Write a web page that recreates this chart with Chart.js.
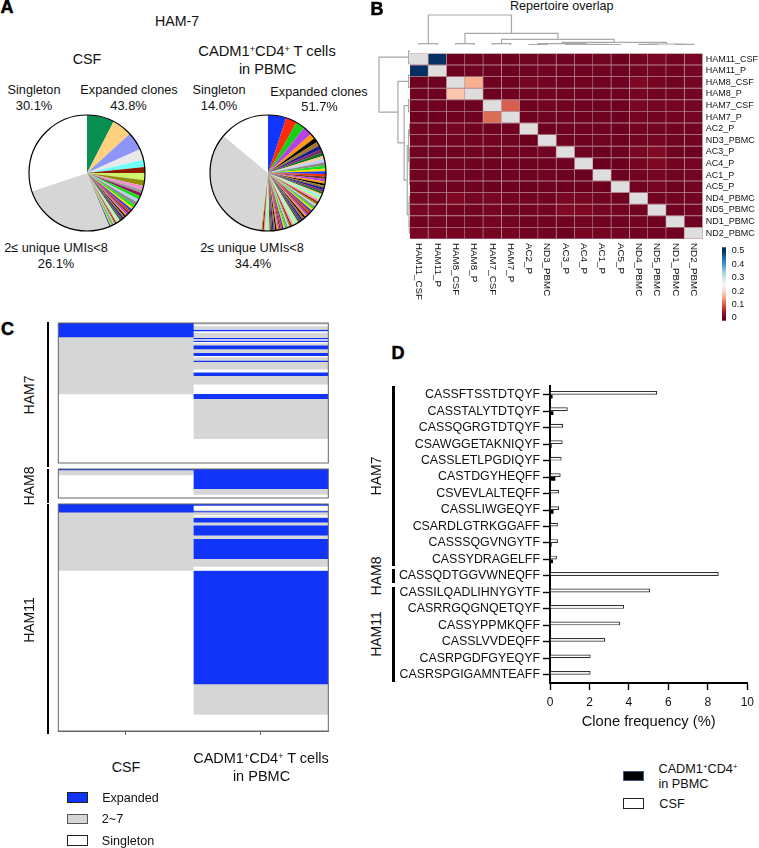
<!DOCTYPE html>
<html>
<head>
<meta charset="utf-8">
<title>HAM clones</title>
<script src="https://cdn.jsdelivr.net/npm/chart.js@4"></script>
<style>
  html, body { margin: 0; background: #fff; }
  #page { position: relative; width: 759px; height: 848px; overflow: hidden; font-family: "Liberation Sans", Arial, sans-serif; color: #111; }
  #page canvas { position: absolute; }
  .txt { position: absolute; white-space: nowrap; transform: translate(-50%, -50%); line-height: 1; }
  .txt sup { font-size: 62%; line-height: 0; vertical-align: 0.42em; }
  .bar { position: absolute; background: #000; }
  .swatch { position: absolute; box-sizing: border-box; border: 1px solid #222; }
</style>
</head>
<body>
<div id="page"></div>
<script>
// panel A
const csfSlices = [7.6, 5.6, 5.1, 3.0, 2.0, 1.7, 2.0, 1.6, 1.1, 0.9, 0.9, 1.0, 0.9, 1.0, 0.8, 0.6, 0.6, 0.5, 0.5, 0.5,
  0.4, 0.4, 0.4, 0.4, 0.4, 0.4, 0.3, 0.3, 0.3, 0.3, 0.3, 0.3, 0.3, 0.3, 0.3, 0.3, 0.3, 0.1, 26.1, 30.1];
const pbmcSlices = [5.1, 3.1, 2.6, 2.5, 1.6, 1.2, 1.2, 1.1, 1.0, 0.9, 0.9, 1.0, 0.9, 0.8, 0.8, 0.7, 0.7, 0.7, 0.7,
  0.6, 0.6, 0.6, 0.6, 0.6, 0.6, 0.6, 0.6, 0.6, 0.6,
  0.5, 0.5, 0.5, 0.5, 0.5, 0.5, 0.5, 0.5, 0.5, 0.5, 0.5, 0.5, 0.5, 0.5, 0.5, 0.5, 0.5, 0.5, 0.5, 0.5,
  0.4, 0.4, 0.4, 0.4, 0.4, 0.4, 0.4, 0.4, 0.4, 0.4, 0.4, 0.4, 0.4, 0.4, 0.4, 0.4, 0.4, 0.4, 0.4, 0.4, 0.4, 0.3, 34.4, 14.0];
const csfLead = ['#0a8f52', '#fdd17e', '#8d95fb', '#e8e8e8', '#6ffffb', '#8e1a00', '#cdf56e', '#8f8f00', '#f68fd6', '#9a9a9a', '#8b1a5e', '#16e016', '#c3cbf8'];
const pbmcLead = ['#1036ff', '#ff2a0a', '#16d016', '#b840e8', '#ff9a10', '#000000', '#a8782a', '#1a1a8c', '#7a2a6a', '#0f6e1e', '#f5cf96', '#c3cbf8'];
const slicePalette = ['#8a8a8a', '#16e016', '#ffd400', '#1036ff', '#ff2a0a', '#6b3a1e', '#b840e8', '#ff9a10', '#000000', '#a8782a',
  '#1a1a8c', '#7a2a6a', '#0f6e1e', '#f5cf96', '#6ffffb', '#cdf56e', '#f68fd6', '#8e1a00', '#8f8f00', '#c8d0f8'];
const grayBand = '#d6d6d6';

// panel B
const repertoires = ['HAM11_CSF', 'HAM11_P', 'HAM8_CSF', 'HAM8_P', 'HAM7_CSF', 'HAM7_P', 'AC2_P', 'ND3_PBMC', 'AC3_P', 'AC4_P', 'AC1_P', 'AC5_P', 'ND4_PBMC', 'ND5_PBMC', 'ND1_PBMC', 'ND2_PBMC'];
const overlap = [
  [null, .50, .004, .005, .005, .004, .006, .006, .005, .005, .006, .004, .008, .011, .006, .012],
  [.50, null, .004, .005, .005, .004, .005, .007, .005, .005, .006, .005, .008, .010, .007, .011],
  [.004, .004, null, .160, .005, .005, .010, .008, .005, .006, .006, .005, .015, .009, .006, .010],
  [.005, .005, .180, null, .004, .005, .006, .008, .006, .005, .005, .005, .010, .008, .006, .010],
  [.005, .005, .005, .004, null, .100, .005, .007, .006, .005, .005, .004, .012, .010, .009, .010],
  [.004, .004, .005, .005, .110, null, .005, .006, .005, .005, .005, .004, .009, .008, .007, .009],
  [.006, .005, .010, .006, .005, .005, null, .004, .005, .005, .005, .004, .008, .008, .006, .008],
  [.006, .007, .008, .008, .007, .006, .004, null, .006, .005, .006, .005, .008, .009, .006, .008],
  [.005, .005, .005, .006, .006, .005, .005, .006, null, .005, .004, .004, .012, .018, .006, .004],
  [.005, .005, .006, .005, .005, .005, .005, .005, .005, null, .002, .004, .010, .015, .007, .010],
  [.006, .006, .006, .005, .005, .005, .005, .006, .004, .002, null, .004, .008, .010, .006, .009],
  [.004, .005, .005, .005, .004, .004, .004, .005, .004, .004, .004, null, .006, .009, .005, .008],
  [.008, .008, .015, .010, .012, .009, .008, .008, .012, .010, .008, .006, null, .008, .008, .008],
  [.011, .010, .009, .008, .010, .008, .008, .009, .018, .015, .010, .009, .008, null, .005, .008],
  [.006, .007, .006, .006, .009, .007, .006, .006, .006, .007, .006, .005, .008, .005, null, .005],
  [.012, .011, .010, .010, .010, .009, .008, .008, .004, .010, .009, .008, .008, .008, .005, null]
];
const rampStops = [0, .05, .1, .15, .2, .25, .3, .35, .4, .45, .5];
const rampColors = ['#67001f', '#b2182b', '#d6604d', '#f4a582', '#fddbc7', '#f7f7f7', '#d1e5f0', '#92c5de', '#4393c3', '#2166ac', '#053061'];
const rampTicks = [0, .1, .2, .3, .4, .5];
// dendrogram merges: position a, height a, position b, height b, merge height
const treeMerges = [
  [1, 4, 5.54, 35, 90], [3, 4, 8.08, 17, 35], [5, 4, 11.15, 8, 17], [8.3, 4, 14, 3, 8],
  [7, 1, 9.6, 2, 4], [0.5, 0, 1.5, 0, 4], [2.5, 0, 3.5, 0, 4], [4.5, 0, 5.5, 0, 4], [6.5, 0, 7.5, 0, 1],
  [9.5, 0, 10.5, 0, 0.8], [10, 0.8, 11.5, 0, 1.2], [8.5, 0, 10.75, 1.2, 2],
  [12.5, 0, 13.5, 0, 2], [14.5, 0, 15.5, 0, 2], [13, 2, 15, 2, 3]
];

// panel C, % of each panel from top to bottom. E expanded, G 2~7, S singleton
const ham7Csf = [10.0, 40.7, 49.3];
const ham7CsfKinds = ['E', 'G', 'S'];
const ham7Pbmc = [1.0, 1.0, 2.0, 0.6, 1.0, 1.2, 3.6, 1.0, 1.0, 1.0, 0.8, 1.6, 2.8, 2.6, 2.1, 1.0, 2.4, 0.9, 5.3, 2.3, 2.5, 6.0, 6.7, 3.7, 28.5, 17.1];
const ham7PbmcKinds = ['G', 'S', 'G', 'S', 'E', 'S', 'G', 'E', 'S', 'E', 'S', 'G', 'E', 'G', 'E', 'S', 'G', 'E', 'G', 'S', 'E', 'G', 'S', 'E', 'G', 'S'];
const ham8Csf = [3, 17, 80];
const ham8CsfKinds = ['E', 'G', 'S'];
const ham8Pbmc = [68, 20, 12];
const ham8PbmcKinds = ['E', 'G', 'S'];
const ham11Csf = [3.65, 25.6, 70.75];
const ham11CsfKinds = ['E', 'G', 'S'];
const ham11Pbmc = [0.6, 1.9, 0.6, 0.4, 1.3, 0.6, 0.6, 2.05, 1.3, 4.4, 1.5, 8.8, 3.5, 1.75, 50.0, 13.45, 7.3];
const ham11PbmcKinds = ['E', 'S', 'G', 'E', 'G', 'S', 'G', 'E', 'G', 'E', 'G', 'E', 'G', 'S', 'E', 'G', 'S'];
const kindColors = { E: '#1034f8', G: grayBand, S: '#ffffff' };

// panel D
const cdr3 = ['CASSFTSSTDTQYF', 'CASSTALYTDTQYF', 'CASSQGRGTDTQYF', 'CSAWGGETAKNIQYF', 'CASSLETLPGDIQYF', 'CASTDGYHEQFF', 'CSVEVLALTEQFF', 'CASSLIWGEQYF', 'CSARDLGTRKGGAFF', 'CASSSQGVNGYTF', 'CASSYDRAGELFF', 'CASSQDTGGVWNEQFF', 'CASSILQADLIHNYGYTF', 'CASRRGQGNQETQYF', 'CASSYPPMKQFF', 'CASSLVVDEQFF', 'CASRPGDFGYEQYF', 'CASRSPGIGAMNTEAFF'];
const csfFreq = [5.43, 0.9, 0.67, 0.64, 0.59, 0.54, 0.46, 0.46, 0.4, 0.4, 0.35, 8.55, 5.08, 3.76, 3.56, 2.8, 2.06, 2.06];
const pbmcFreq = [0.13, 0.17, 0.02, 0.08, 0, 0.27, 0, 0.18, 0.04, 0.08, 0.15, 0.03, 0, 0, 0, 0, 0, 0];
const freqTicks = [0, 2, 4, 6, 8, 10];

Chart.defaults.animation = false;
Chart.defaults.responsive = false;
Chart.defaults.font.family = '"Liberation Sans", Arial, sans-serif';
Chart.defaults.color = '#111';
Chart.defaults.plugins.legend.display = false;
Chart.defaults.plugins.tooltip.enabled = false;

const page = document.getElementById('page');

function newCanvas(left, top, width, height) {
  const c = document.createElement('canvas');
  c.width = width;
  c.height = height;
  c.style.left = left + 'px';
  c.style.top = top + 'px';
  page.appendChild(c);
  return c;
}

function text(html, cx, cy, size, extra) {
  const d = document.createElement('div');
  d.className = 'txt';
  d.innerHTML = html;
  d.style.left = cx + 'px';
  d.style.top = cy + 'px';
  d.style.fontSize = size + 'px';
  if (extra) Object.assign(d.style, extra);
  page.appendChild(d);
}

function vbar(x, y0, y1, w) {
  const d = document.createElement('div');
  d.className = 'bar';
  d.style.cssText = `left:${x}px;top:${y0}px;width:${w}px;height:${y1 - y0}px`;
  page.appendChild(d);
}

function swatch(x0, y0, x1, y1, fill, border) {
  const d = document.createElement('div');
  d.className = 'swatch';
  d.style.cssText = `left:${x0}px;top:${y0}px;width:${x1 - x0}px;height:${y1 - y0}px;background:${fill};border-color:${border}`;
  page.appendChild(d);
}

// ---------- A
const pieOutline = {
  id: 'pieOutline',
  afterDatasetsDraw(chart) {
    const arc = chart.getDatasetMeta(0).data[0];
    const ctx = chart.ctx;
    ctx.save();
    ctx.beginPath();
    ctx.arc(arc.x, arc.y, arc.outerRadius, 0, Math.PI * 2);
    ctx.lineWidth = 1.2;
    ctx.strokeStyle = '#000';
    ctx.stroke();
    ctx.restore();
  }
};

function pieColors(values, lead) {
  const colors = values.map((v, i) => i < lead.length ? lead[i] : slicePalette[(i - lead.length) % slicePalette.length]);
  colors[values.length - 2] = grayBand;
  colors[values.length - 1] = '#ffffff';
  return colors;
}

function pie(left, values, lead) {
  new Chart(newCanvas(left, 113, 120, 120), {
    type: 'pie',
    data: { datasets: [{ data: values, backgroundColor: pieColors(values, lead), borderWidth: 0 }] },
    options: { layout: { padding: 2 } },
    plugins: [pieOutline]
  });
}
pie(27, csfSlices, csfLead);
pie(208, pbmcSlices, pbmcLead);

text('HAM-7', 177, 21, 14.2);
text('CSF', 87, 59, 14.3);
text('CADM1<sup>+</sup>CD4<sup>+</sup> T cells', 267, 51, 14.7);
text('in PBMC', 267.5, 69, 14.5);
text('Singleton', 34, 90, 12.7);
text('30.1%', 34, 105.5, 12.9);
text('Expanded clones', 129, 90, 12.7);
text('43.8%', 128.5, 106, 12.9);
text('2≤ unique UMIs&lt;8', 56, 248, 12.75);
text('26.1%', 56, 264, 12.9);
text('Singleton', 219, 90, 12.7);
text('14.0%', 219, 105.5, 12.9);
text('Expanded clones', 319, 91.5, 12.7);
text('51.7%', 319.5, 107, 12.9);
text('2≤ unique UMIs&lt;8', 252, 248, 12.75);
text('34.4%', 253, 264, 12.9);

// ---------- B
function hexRgb(h) {
  return [1, 3, 5].map(i => parseInt(h.slice(i, i + 2), 16));
}
function rampColor(v) {
  if (v === null) return '#dedede';
  let i = 0;
  while (i < rampStops.length - 2 && v > rampStops[i + 1]) i++;
  const t = (v - rampStops[i]) / (rampStops[i + 1] - rampStops[i]);
  const a = hexRgb(rampColors[i]), b = hexRgb(rampColors[i + 1]);
  return `rgb(${a.map((c, k) => Math.round(c + (b[k] - c) * t)).join(',')})`;
}

const columnLabels = {
  id: 'columnLabels',
  afterDraw(chart) {
    const { ctx, scales, chartArea } = chart;
    ctx.save();
    ctx.font = '9.8px "Liberation Sans", Arial, sans-serif';
    ctx.fillStyle = '#111';
    ctx.textBaseline = 'middle';
    repertoires.forEach((name, i) => {
      ctx.save();
      ctx.translate(scales.x.getPixelForValue(i + 0.5), chartArea.bottom + 4);
      ctx.rotate(Math.PI / 2);
      ctx.fillText(name, 0, 0);
      ctx.restore();
    });
    ctx.restore();
  }
};

new Chart(newCanvas(410, 45, 349, 260), {
  type: 'bar',
  data: {
    labels: repertoires,
    datasets: repertoires.map((_, col) => ({
      data: repertoires.map(() => 1),
      backgroundColor: overlap.map(row => rampColor(row[col])),
      borderColor: 'rgba(165,110,125,0.8)',
      borderWidth: 0.8,
      barPercentage: 1,
      categoryPercentage: 1
    }))
  },
  options: {
    indexAxis: 'y',
    layout: { padding: { bottom: 66 } },
    scales: {
      x: { display: false, stacked: true, min: 0, max: 16 },
      y: {
        stacked: true,
        position: 'right',
        grid: { display: false, tickLength: 0 },
        border: { display: false },
        ticks: { font: { size: 9 }, padding: 3, autoSkip: false },
        afterFit(s) { s.width = 56.3; }
      }
    }
  },
  plugins: [columnLabels]
});

function treeLine(flip) {
  const pts = [];
  treeMerges.forEach(([a, ha, b, hb, h]) => {
    [[a, ha], [a, h], [b, h], [b, hb]].forEach(([pos, ht]) => {
      pts.push(flip ? { x: ht, y: pos } : { x: pos, y: ht });
    });
    pts.push({ x: null, y: null });
  });
  return pts;
}
function dendrogram(canvas, flip) {
  new Chart(canvas, {
    type: 'scatter',
    data: { datasets: [{ data: treeLine(flip), showLine: true, spanGaps: false, borderColor: '#a8a8a8', borderWidth: 1.2, pointRadius: 0, clip: false }] },
    options: {
      parsing: false,
      scales: flip
        ? { x: { display: false, min: 0, max: 93, reverse: true }, y: { display: false, min: 0, max: 16, reverse: true } }
        : { x: { display: false, min: 0, max: 16 }, y: { display: false, min: 0, max: 93 } }
    }
  });
}
dendrogram(newCanvas(410, 14, 293, 31), false);
dendrogram(newCanvas(378, 45, 32, 194), true);

const rampLabels = {
  id: 'rampLabels',
  afterDraw(chart) {
    const { ctx, scales, chartArea } = chart;
    ctx.save();
    ctx.font = '9px "Liberation Sans", Arial, sans-serif';
    ctx.fillStyle = '#111';
    ctx.textBaseline = 'middle';
    rampTicks.forEach(v => {
      ctx.fillText(v === 0 ? '0' : v.toFixed(1), chartArea.right + 5.7, scales.y.getPixelForValue(v));
    });
    ctx.restore();
  }
};

new Chart(newCanvas(716, 240, 43, 85), {
  type: 'bar',
  data: { labels: [''], datasets: [{
    data: [[-0.02, 0.525]],
    barPercentage: 1,
    categoryPercentage: 1,
    backgroundColor(c) {
      const area = c.chart.chartArea;
      if (!area) return '#888';
      const y = c.chart.scales.y;
      const g = c.chart.ctx.createLinearGradient(0, y.getPixelForValue(0), 0, y.getPixelForValue(0.5));
      rampStops.forEach((s, i) => g.addColorStop(s / 0.5, rampColors[i]));
      return g;
    }
  }] },
  options: {
    layout: { padding: { left: 6, top: 7.3, right: 33, bottom: 4.3 } },
    scales: {
      x: { display: false },
      y: { display: false, min: -0.02, max: 0.525 }
    }
  },
  plugins: [rampLabels]
});

text('Repertoire overlap', 561.7, 5.5, 12.6);

// ---------- C
const panelFrame = {
  id: 'panelFrame',
  afterDraw(chart) {
    const { ctx, chartArea: a } = chart;
    ctx.save();
    ctx.strokeStyle = '#666';
    ctx.lineWidth = 1;
    ctx.strokeRect(a.left, a.top, a.right - a.left, a.bottom - a.top);
    ctx.restore();
  }
};

function bandSets(col, values, kinds) {
  return values.map((v, i) => ({
    data: col === 0 ? [v, null] : [null, v],
    backgroundColor: kindColors[kinds[i]],
    borderWidth: 0,
    barPercentage: 1,
    categoryPercentage: 1
  }));
}

function bandPanel(top, bottom, csf, csfKinds, pbmc, pbmcKinds, withTicks) {
  const below = withTicks ? 8 : 2;
  new Chart(newCanvas(56, top - 2, 275, bottom - top + 2 + below), {
    type: 'bar',
    data: { labels: ['CSF', 'PBMC'], datasets: [...bandSets(0, csf, csfKinds), ...bandSets(1, pbmc, pbmcKinds)] },
    options: {
      layout: { padding: { left: 2.3, top: 2, right: 2.7, bottom: withTicks ? 4 : 2 } },
      scales: {
        x: {
          stacked: true,
          display: withTicks,
          grid: { offset: false, drawOnChartArea: false, tickLength: 4, tickColor: '#666' },
          border: { color: '#666' },
          ticks: { display: false },
          afterFit(s) { s.height = 4; }
        },
        y: { stacked: true, display: false, min: 0, max: 100, reverse: true }
      }
    },
    plugins: [panelFrame]
  });
}
bandPanel(322.7, 466.7, ham7Csf, ham7CsfKinds, ham7Pbmc, ham7PbmcKinds, false);
bandPanel(469.3, 502.7, ham8Csf, ham8CsfKinds, ham8Pbmc, ham8PbmcKinds, false);
bandPanel(504.3, 732.3, ham11Csf, ham11CsfKinds, ham11Pbmc, ham11PbmcKinds, true);

vbar(46.7, 321.7, 466.7, 2.6);
vbar(46.7, 469.3, 502.7, 2.6);
vbar(46.7, 504, 733.5, 2.6);
const up = { transform: 'translate(-50%,-50%) rotate(-90deg)' };
text('HAM7', 29, 395, 14, up);
text('HAM8', 29, 486, 14, up);
text('HAM11', 29, 620, 14, up);

text('CSF', 126, 766.5, 14.3);
text('CADM1<sup>+</sup>CD4<sup>+</sup> T cells', 261, 757.5, 14.5);
text('in PBMC', 261.5, 775.5, 14.5);

swatch(67.3, 792.3, 88.3, 802.7, kindColors.E, '#222');
swatch(67.3, 813.7, 88.3, 824.3, kindColors.G, '#555');
swatch(67.3, 835.3, 88.3, 845.7, kindColors.S, '#222');
text('Expanded', 130.5, 797.5, 12.6);
text('2~7', 112.5, 819, 12.6);
text('Singleton', 128, 840.5, 12.6);

// ---------- D
new Chart(newCanvas(396, 376, 363, 356), {
  type: 'bar',
  data: {
    labels: cdr3,
    datasets: [
      { data: csfFreq, backgroundColor: '#fff', borderColor: '#333', borderWidth: 1.2, barPercentage: 1, categoryPercentage: 0.46 },
      { data: pbmcFreq, backgroundColor: '#000', borderColor: '#000', borderWidth: 0, barPercentage: 1, categoryPercentage: 0.46 }
    ]
  },
  options: {
    indexAxis: 'y',
    layout: { padding: { top: 5.5, right: 9 } },
    scales: {
      x: {
        min: 0, max: 10,
        grid: { drawOnChartArea: false, tickLength: 7, tickColor: '#000', tickWidth: 1.4 },
        border: { color: '#000', width: 2 },
        afterBuildTicks(s) { s.ticks = freqTicks.map(v => ({ value: v })); },
        ticks: { font: { size: 12 }, color: '#111', padding: 5, maxRotation: 0 },
        title: { display: true, text: 'Clone frequency (%)', font: { size: 14.7 }, color: '#111', padding: { top: 4, bottom: 1 } },
        afterFit(s) { s.height = 49; }
      },
      y: {
        grid: { drawOnChartArea: false, tickLength: 7, tickColor: '#000', tickWidth: 1.4, offset: false },
        border: { color: '#000', width: 2 },
        ticks: { font: { size: 12.4 }, color: '#111', padding: 3, autoSkip: false },
        afterFit(s) { s.width = 154; }
      }
    }
  }
});

vbar(392, 386, 566, 2.6);
vbar(392, 569.3, 583.3, 2.6);
vbar(392, 587.3, 681.7, 2.6);
text('HAM7', 376, 476, 14, up);
text('HAM8', 376, 576, 14, up);
text('HAM11', 376, 634, 14, up);

swatch(623.3, 770.7, 644.3, 781.3, '#000', '#3c5a88');
swatch(623.3, 798.3, 644.3, 808.7, '#fff', '#222');
text('CADM1<sup>+</sup>CD4<sup>+</sup>', 698, 769, 12.7);
text('in PBMC', 683.5, 783.5, 12.7);
text('CSF', 672, 804.3, 12.7);

// panel letters
const heavy = { fontWeight: '900', color: '#000', WebkitTextStroke: '0.5px #000' };
text('A', 7, 7, 18, heavy);
text('B', 377, 9, 18, heavy);
text('C', 7.5, 328.5, 18, heavy);
text('D', 398, 353, 18, heavy);
</script>
</body>
</html>
